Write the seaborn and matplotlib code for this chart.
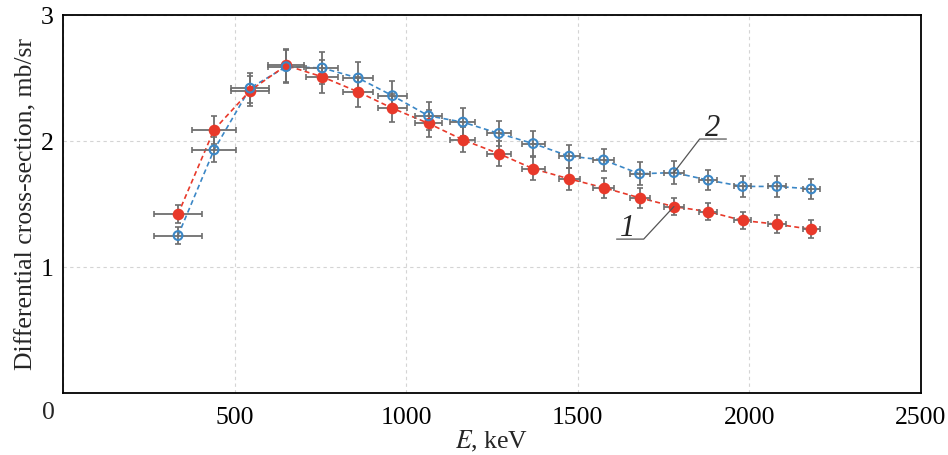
import numpy as np
import pandas as pd
import seaborn as sns
import matplotlib.pyplot as plt

# Data
energy = [335, 440, 545, 650, 755, 860, 960, 1065, 1165, 1270,
          1370, 1475, 1575, 1680, 1780, 1880, 1980, 2080, 2180]
energy_err = [70, 63, 56, 52, 47, 43, 41, 39, 36, 34,
              33, 31, 30, 29, 28, 27, 26, 26, 25]

sigma_1 = [1.42, 2.09, 2.40, 2.60, 2.51, 2.39, 2.26, 2.14, 2.01, 1.90,
           1.78, 1.70, 1.63, 1.55, 1.48, 1.44, 1.37, 1.34, 1.30]
sigma_1_err = [0.07, 0.11, 0.12, 0.13, 0.13, 0.12, 0.11, 0.11, 0.10, 0.10,
               0.09, 0.09, 0.08, 0.08, 0.07, 0.07, 0.07, 0.07, 0.07]

sigma_2 = [1.25, 1.93, 2.42, 2.59, 2.58, 2.50, 2.36, 2.20, 2.15, 2.06,
           1.98, 1.88, 1.85, 1.74, 1.75, 1.69, 1.64, 1.64, 1.62]
sigma_2_err = [0.07, 0.10, 0.12, 0.13, 0.13, 0.13, 0.12, 0.11, 0.11, 0.10,
               0.10, 0.09, 0.09, 0.09, 0.09, 0.08, 0.08, 0.08, 0.08]

x_ticks = [0, 500, 1000, 1500, 2000, 2500]
y_ticks = [0, 1, 2, 3]

df = pd.DataFrame({"E": energy, "s1": sigma_1, "s2": sigma_2})

sns.set_style("white")
plt.rcParams["font.family"] = ["Liberation Serif", "DejaVu Serif"]
plt.rcParams["mathtext.fontset"] = "stix"

red = "#e8392a"
blue = "#3b87c6"
err_col = "#6e6e6e"
fs = 18.5

fig = plt.figure(figsize=(9.48, 4.55), dpi=100)
ax = fig.add_axes([0.0665, 0.136, 0.905, 0.831])

# dashed connecting curves
sns.lineplot(data=df, x="E", y="s2", ax=ax, color=blue, lw=1.2,
             linestyle=(0, (3, 2)), zorder=2)
sns.lineplot(data=df, x="E", y="s1", ax=ax, color=red, lw=1.2,
             linestyle=(0, (3, 2)), zorder=2)

# error bars
ax.errorbar(energy, sigma_2, xerr=energy_err, yerr=sigma_2_err, fmt="none",
            ecolor=err_col, elinewidth=1.3, capsize=2.5, capthick=1.2, zorder=3)
ax.errorbar(energy, sigma_1, xerr=energy_err, yerr=sigma_1_err, fmt="none",
            ecolor=err_col, elinewidth=1.3, capsize=2.5, capthick=1.2, zorder=3)

# markers
sns.scatterplot(data=df, x="E", y="s1", ax=ax, color=red, s=70,
                edgecolor=red, linewidth=0, zorder=4)
sns.scatterplot(data=df, x="E", y="s2", ax=ax, facecolor="none", s=40,
                edgecolor=blue, linewidth=1.5, zorder=5)

ax.set_xlim(0, 2500)
ax.set_ylim(0, 3)
ax.set_xticks(x_ticks)
ax.set_yticks(y_ticks)
ax.set_xticklabels([""] + [str(t) for t in x_ticks[1:]])
ax.set_yticklabels([""] + [str(t) for t in y_ticks[1:]])
ax.text(-0.0165, -0.052, "0", transform=ax.transAxes, ha="center",
        va="center", fontsize=fs)

ax.grid(True, color="#d4d4d4", linestyle=(0, (3, 3)), lw=0.8)
for s in ax.spines.values():
    s.set_color("black")
    s.set_linewidth(1.3)
ax.tick_params(direction="in", length=7, width=1.0, labelsize=fs,
               colors="black", pad=7)
ax.tick_params(axis="x", pad=10)

ax.set_xlabel(r"$\mathit{E}$, keV", fontsize=fs, labelpad=0)
ax.set_ylabel("Differential cross-section, mb/sr", fontsize=fs, labelpad=2)

# curve labels with leader lines
lead = "#555555"
ax.plot([energy[14], 1855, 1933], [sigma_2[14], 2.016, 2.016], color=lead, lw=0.9, zorder=6)
ax.text(1892, 2.04, "2", fontsize=22, style="italic", ha="center", va="baseline")

ax.plot([energy[14], 1692, 1613], [sigma_1[14], 1.222, 1.222], color=lead, lw=0.9, zorder=6)
ax.text(1645, 1.245, "1", fontsize=22, style="italic", ha="center", va="baseline")

plt.savefig("out.png", dpi=100)
